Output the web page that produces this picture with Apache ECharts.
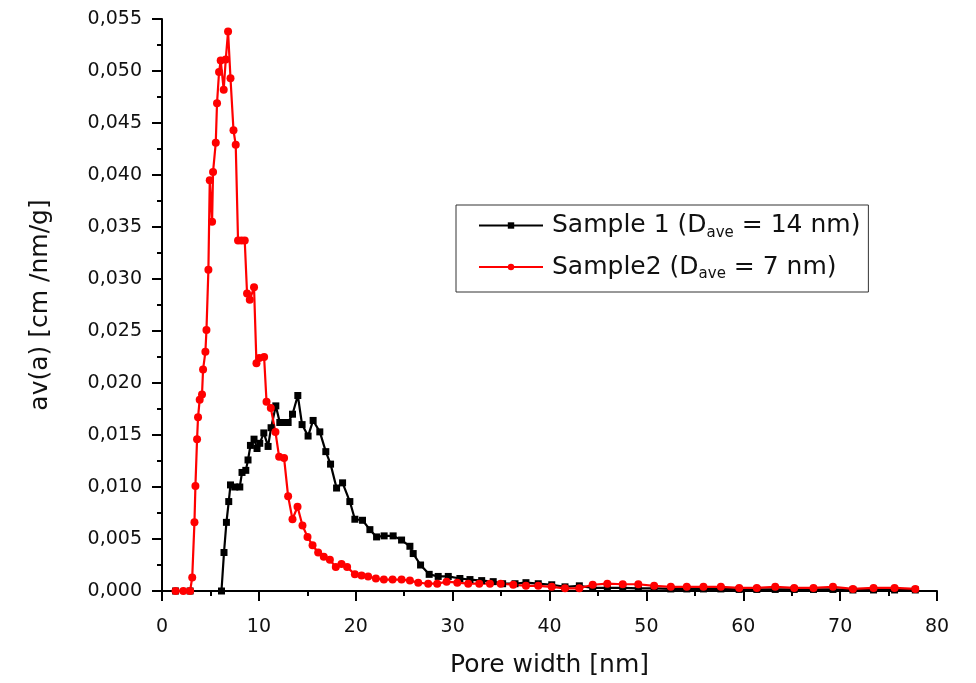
<!DOCTYPE html>
<html>
<head>
<meta charset="utf-8">
<script src="https://cdn.jsdelivr.net/npm/echarts@6/dist/echarts.min.js"></script>
<style>
html,body{margin:0;padding:0;background:#fff;}
#chart{width:976px;height:683px;}
</style>
</head>
<body>
<div id="chart"></div>
<script>
// Sample 1 (black squares): [pore width nm, dv(d)]
const sample1X = [1.4, 2.9, 6.14, 6.4, 6.65, 6.89, 7.07, 7.51, 8.03, 8.26, 8.65, 8.88, 9.13, 9.5, 9.81, 10.09, 10.51, 10.95, 11.26, 11.75, 12.16, 12.57, 13.02, 13.47, 14.02, 14.46, 15.08, 15.6, 16.29, 16.91, 17.4, 18.02, 18.64, 19.39, 19.91, 20.7, 21.46, 22.15, 22.93, 23.86, 24.73, 25.59, 25.93, 26.69, 27.58, 28.51, 29.55, 30.75, 31.79, 33.0, 34.19, 35.16, 36.44, 37.57, 38.84, 40.23, 41.6, 43.08, 44.46, 45.97, 47.56, 49.17, 50.8, 52.52, 54.17, 55.89, 57.69, 59.58, 61.4, 63.3, 65.26, 67.25, 69.26, 71.32, 73.45, 75.62, 77.76];
const sample1Y = [0, 0, 0, 0.0037, 0.0066, 0.0086, 0.0102, 0.0100, 0.0100, 0.0114, 0.0116, 0.0126, 0.0140, 0.0146, 0.0137, 0.0142, 0.0152, 0.0139, 0.0157, 0.0178, 0.0162, 0.0162, 0.0162, 0.0170, 0.0188, 0.0160, 0.0149, 0.0164, 0.0153, 0.0134, 0.0122, 0.0099, 0.0104, 0.0086, 0.0069, 0.0068, 0.0059, 0.0052, 0.0053, 0.0053, 0.0049, 0.0043, 0.0036, 0.0025, 0.0016, 0.0014, 0.0014, 0.0012, 0.0011, 0.0010, 0.0009, 0.0007, 0.0007, 0.0008, 0.0007, 0.0006, 0.0004, 0.0005, 0.0003, 0.0003, 0.0003, 0.00025, 0.00025, 0.0002, 0.0002, 0.0002, 0.0002, 0.00015, 0.00015, 0.00015, 0.00015, 0.00015, 0.00015, 0.0001, 0.0001, 0.0001, 0.0001];

// Sample2 (red circles)
const sample2X = [1.4, 2.2, 2.9, 3.12, 3.35, 3.45, 3.62, 3.72, 3.89, 4.13, 4.24, 4.48, 4.59, 4.79, 4.93, 5.17, 5.27, 5.55, 5.68, 5.89, 6.06, 6.37, 6.58, 6.82, 7.07, 7.38, 7.61, 7.85, 8.2, 8.54, 8.78, 9.06, 9.5, 9.75, 10.04, 10.54, 10.79, 11.23, 11.71, 12.09, 12.6, 13.02, 13.47, 13.99, 14.5, 15.02, 15.54, 16.12, 16.7, 17.33, 17.94, 18.53, 19.11, 19.91, 20.6, 21.28, 22.08, 22.9, 23.8, 24.73, 25.59, 26.45, 27.48, 28.41, 29.38, 30.48, 31.61, 32.75, 33.85, 34.96, 36.26, 37.57, 38.84, 40.23, 41.6, 43.08, 44.46, 45.97, 47.56, 49.17, 50.8, 52.52, 54.17, 55.89, 57.69, 59.58, 61.4, 63.3, 65.26, 67.25, 69.26, 71.32, 73.45, 75.62, 77.76];
const sample2Y = [0, 0, 0, 0.0013, 0.0066, 0.0101, 0.0146, 0.0167, 0.0184, 0.0189, 0.0213, 0.0230, 0.0251, 0.0309, 0.0395, 0.0355, 0.0403, 0.0431, 0.0469, 0.0499, 0.0510, 0.0482, 0.0511, 0.0538, 0.0493, 0.0443, 0.0429, 0.0337, 0.0337, 0.0337, 0.0286, 0.0280, 0.0292, 0.0219, 0.0224, 0.0225, 0.0182, 0.0176, 0.0153, 0.0129, 0.0128, 0.0091, 0.0069, 0.0081, 0.0063, 0.0052, 0.0044, 0.0037, 0.0033, 0.0030, 0.0023, 0.0026, 0.0023, 0.0016, 0.0015, 0.0014, 0.0012, 0.0011, 0.0011, 0.0011, 0.0010, 0.0008, 0.0007, 0.0007, 0.0009, 0.0008, 0.0007, 0.0007, 0.0007, 0.0007, 0.0006, 0.0005, 0.0005, 0.0004, 0.00026, 0.00026, 0.0006, 0.0007, 0.00065, 0.00065, 0.0005, 0.0004, 0.0004, 0.0004, 0.0004, 0.0003, 0.0003, 0.0004, 0.0003, 0.0003, 0.0004, 0.0002, 0.0003, 0.0003, 0.0002];

const xTicks = [0, 10, 20, 30, 40, 50, 60, 70, 80];
const yTicks = [0, 0.005, 0.01, 0.015, 0.02, 0.025, 0.03, 0.035, 0.04, 0.045, 0.05, 0.055];

const FONT = 'DejaVu Sans';
const pair = (xs, ys) => xs.map((x, i) => [x, ys[i]]);

const chart = echarts.init(document.getElementById('chart'), null, {renderer: 'canvas'});
const axisCommon = {
  axisLine: {show: true, onZero: false, lineStyle: {color: '#000', width: 2}},
  axisTick: {show: true, inside: false, length: 10, lineStyle: {color: '#000', width: 2}},
  minorTick: {show: true, splitNumber: 2, length: 5, lineStyle: {color: '#000', width: 2}},
  splitLine: {show: false}
};
chart.setOption({
  animation: false,
  backgroundColor: '#fff',
  grid: {left: 162, right: 39, top: 19, bottom: 92, containLabel: false},
  xAxis: Object.assign({
    type: 'value', min: xTicks[0], max: xTicks[xTicks.length - 1], interval: 10,
    name: 'Pore width [nm]', nameLocation: 'middle', nameGap: 62,
    nameTextStyle: {fontFamily: FONT, fontSize: 25, color: '#111'},
    axisLabel: {fontFamily: FONT, fontSize: 19, color: '#111', margin: 27}
  }, axisCommon),
  yAxis: Object.assign({
    type: 'value', min: yTicks[0], max: yTicks[yTicks.length - 1], interval: 0.005,
    name: 'av(a) [cm /nm/g]', nameLocation: 'middle', nameGap: 109,
    nameTextStyle: {fontFamily: FONT, fontSize: 25, color: '#111'},
    axisLabel: {fontFamily: FONT, fontSize: 19, color: '#111', margin: 20,
      formatter: v => v.toFixed(3).replace('.', ',')}
  }, axisCommon),
  legend: {
    orient: 'vertical', left: 456, top: 205,
    padding: [8, 8, 10, 22], itemGap: 14,
    itemWidth: 64, itemHeight: 8,
    borderColor: '#333', borderWidth: 1, backgroundColor: '#fff',
    data: ['Sample 1', 'Sample2'],
    formatter: function (name) {
      if (name === 'Sample 1') return '{t|Sample 1 (D}{s|ave}{t| = 14 nm)}';
      return '{t|Sample2 (D}{s|ave}{t| = 7 nm)}';
    },
    textStyle: {
      fontFamily: FONT, fontSize: 25, color: '#111', padding: [0, 0, 0, 4],
      rich: {
        t: {fontFamily: FONT, fontSize: 25, color: '#111', lineHeight: 30},
        s: {fontFamily: FONT, fontSize: 15, color: '#111', lineHeight: 1, verticalAlign: 'bottom'}
      }
    }
  },
  series: [
    {
      name: 'Sample 1', type: 'line', data: pair(sample1X, sample1Y),
      symbol: 'rect', symbolSize: 7, showAllSymbol: true,
      lineStyle: {color: '#000', width: 2.2}, itemStyle: {color: '#000'}
    },
    {
      name: 'Sample2', type: 'line', data: pair(sample2X, sample2Y),
      symbol: 'circle', symbolSize: 8, showAllSymbol: true,
      lineStyle: {color: '#ff0000', width: 2.2}, itemStyle: {color: '#ff0000'}
    }
  ]
});
</script>
</body>
</html>
